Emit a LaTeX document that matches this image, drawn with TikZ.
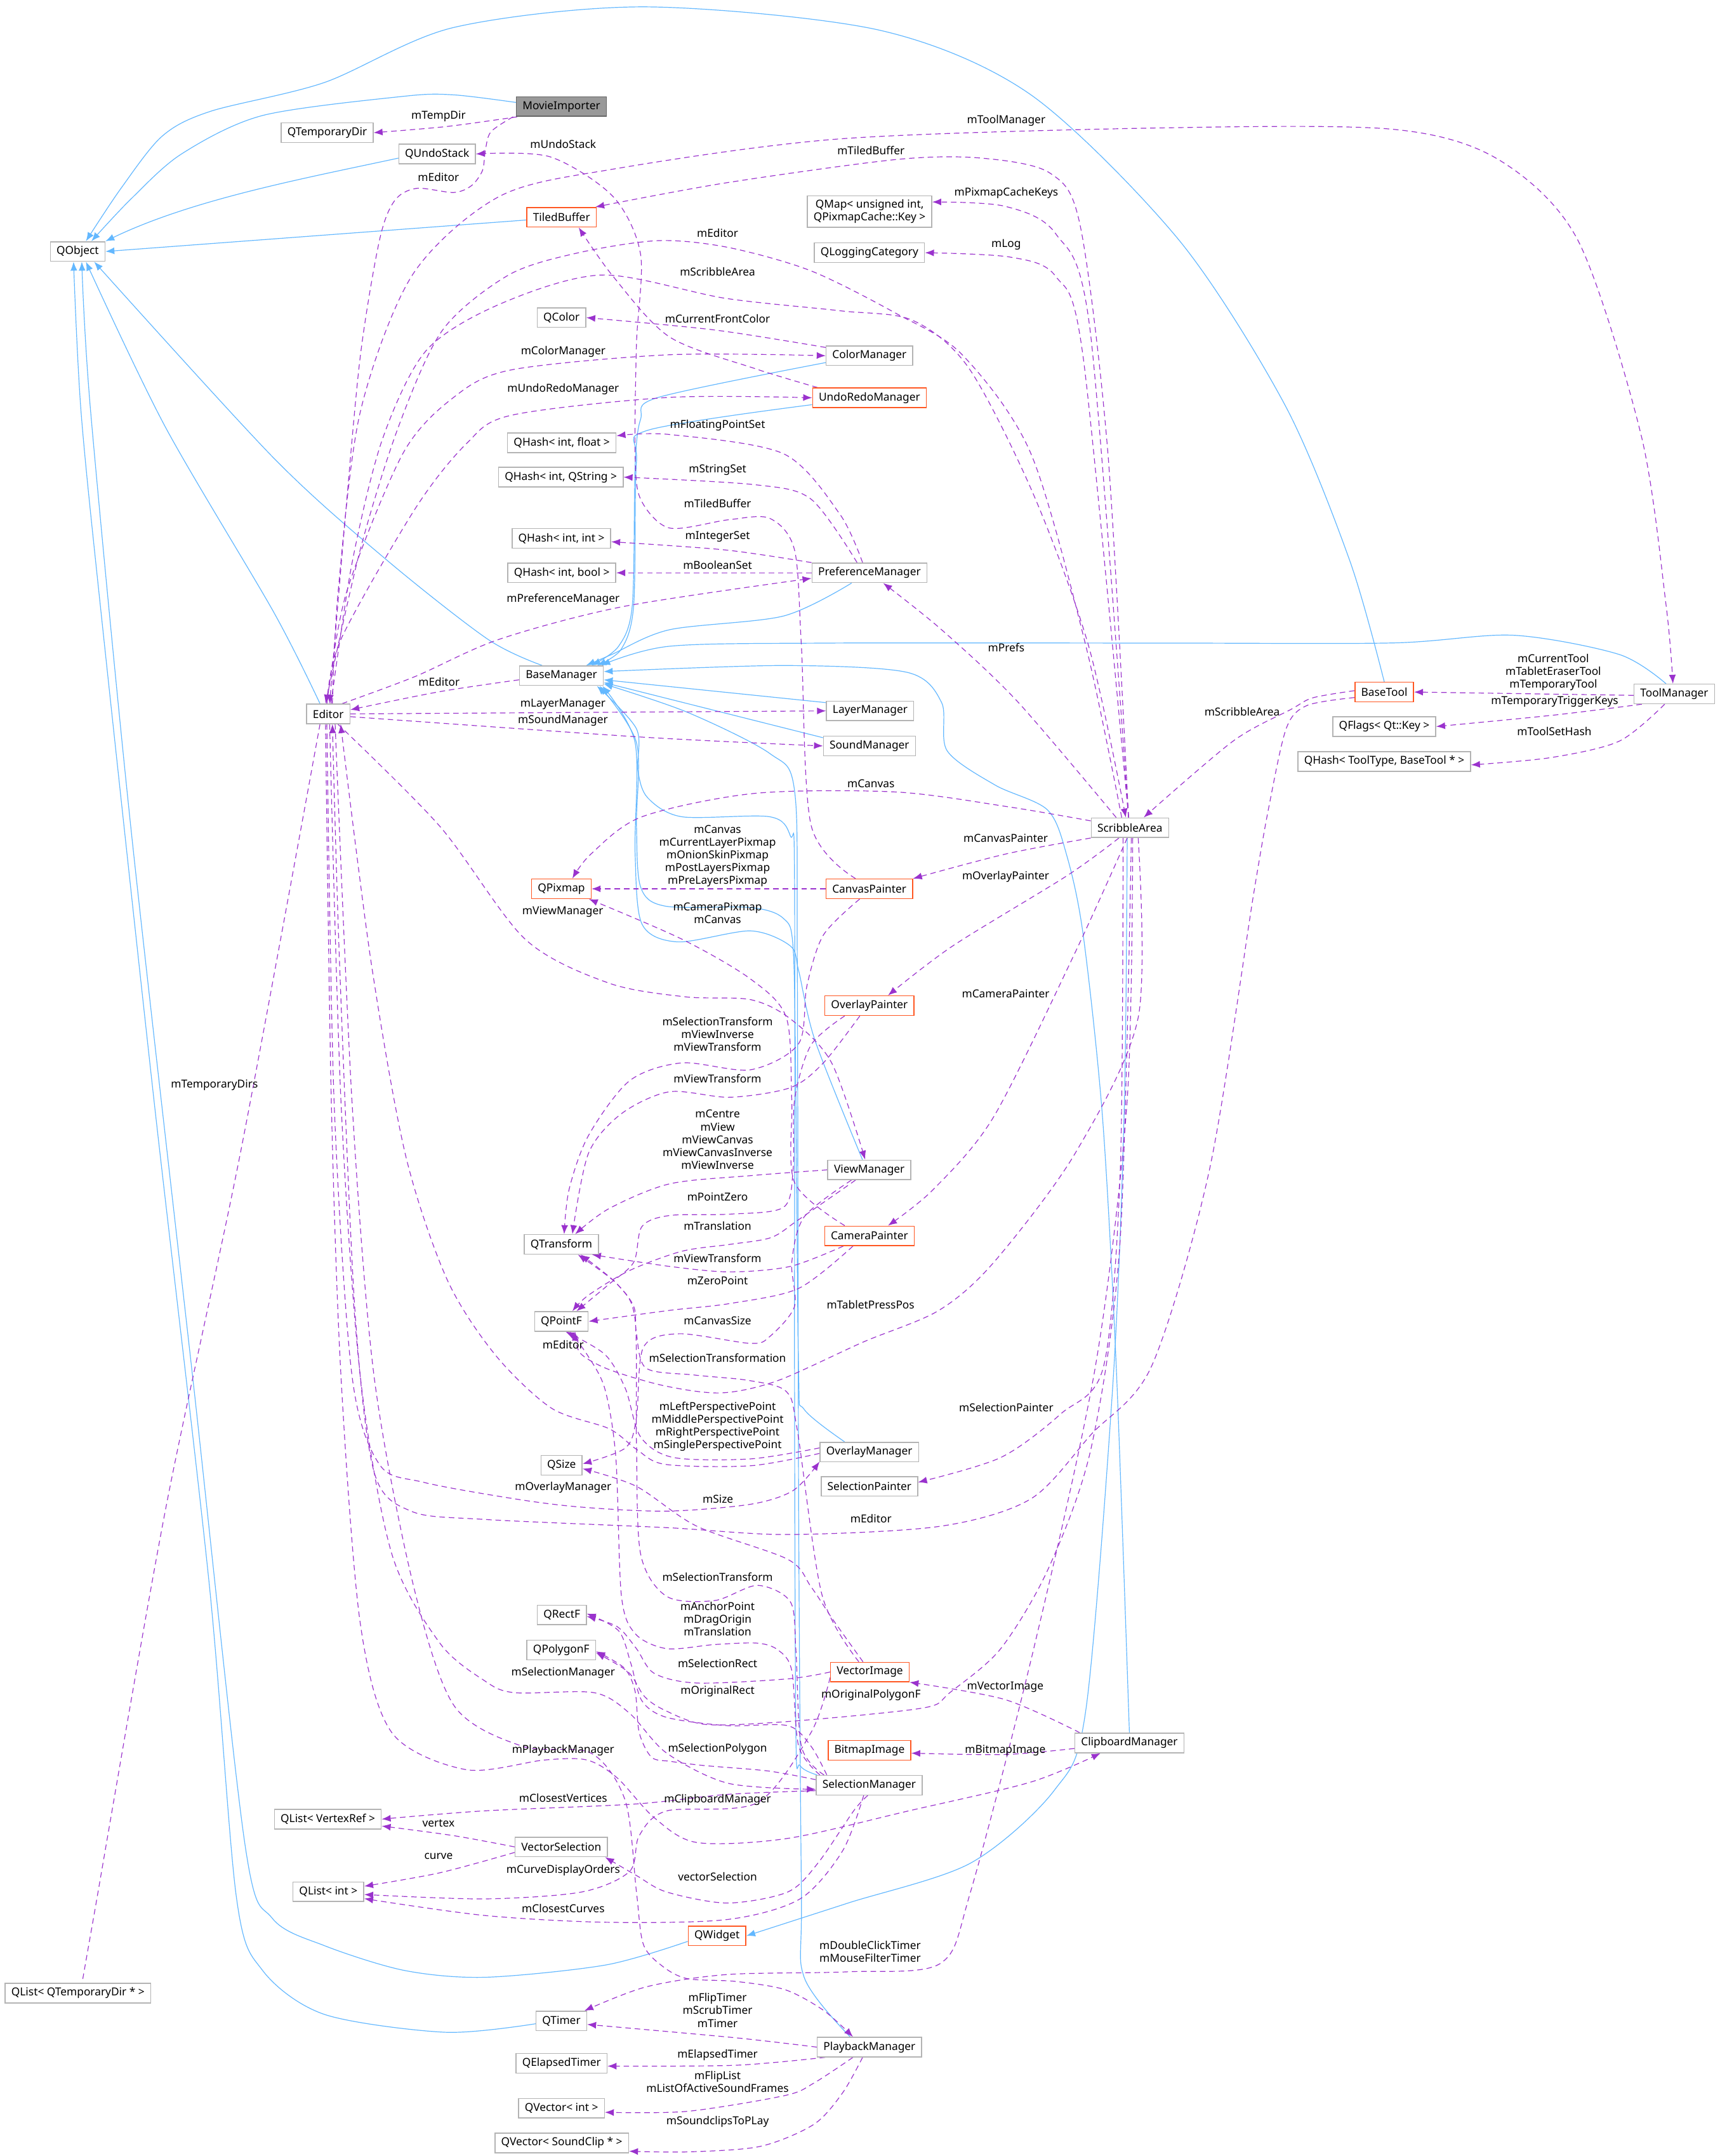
\documentclass[tikz,border=0pt]{standalone}
\usepackage{fontspec}
\setmainfont{Noto Sans}
\usetikzlibrary{arrows.meta}
\definecolor{purp}{HTML}{9A32CD}
\definecolor{blu}{HTML}{63B8FF}
\definecolor{nodegray}{HTML}{B3B3B3}
\definecolor{nodered}{HTML}{FF5722}
\definecolor{mifill}{HTML}{999999}
\definecolor{miborder}{HTML}{666666}
\pgfdeclarelayer{bg}
\pgfsetlayers{bg,main}
\tikzset{
  cls/.style={draw=nodegray, line width=0.7pt, fill=white, inner xsep=4.5pt, inner ysep=0pt,
    minimum height=14.2pt, font=\fontsize{8}{9.3}\selectfont, align=center},
  clsred/.style={cls, draw=nodered},
  clsmain/.style={cls, draw=miborder, fill=mifill},
  lbl/.style={font=\fontsize{8}{9.3}\selectfont, align=center, inner sep=0pt},
  inh/.style={draw=blu, line width=0.55pt, -{Latex[length=6.5pt,width=5pt]}},
  dep/.style={draw=purp, line width=0.55pt, dash pattern=on 4pt off 2.8pt, -{Latex[length=6.5pt,width=5pt]}},
}
\begin{document}
\begin{tikzpicture}[x=1pt,y=-1pt]
\begin{pgfonlayer}{bg}
\fill[white] (0,0) rectangle (1251,1568);
\end{pgfonlayer}
\useasboundingbox (0,0) rectangle (1251,1568);

% ---------------- nodes ----------------
\node[clsmain] (MovieImporter) at (408.4,77.5) {MovieImporter};
\node[cls] (QTemporaryDir) at (238,96.5) {QTemporaryDir};
\node[cls] (QUndoStack) at (318,112) {QUndoStack};
\node[cls] (QObject) at (56.5,182.9) {QObject};
\node[clsred] (TiledBuffer) at (408.5,158) {TiledBuffer};
\node[cls, inner ysep=2pt, minimum height=22.7pt] (QMap) at (632.6,153.9) {QMap< unsigned int,\\QPixmapCache::Key >};
\node[cls] (QLogCat) at (632.5,183.8) {QLoggingCategory};
\node[cls] (QColor) at (408.5,231) {QColor};
\node[cls] (ColorManager) at (632.5,258.7) {ColorManager};
\node[clsred] (UndoRedoManager) at (632.5,289.3) {UndoRedoManager};
\node[cls] (QHf) at (408.7,322) {QHash< int, float >};
\node[cls] (QHs) at (408,347) {QHash< int, QString >};
\node[cls] (QHi) at (408.4,391.5) {QHash< int, int >};
\node[cls] (QHb) at (408.7,416.6) {QHash< int, bool >};
\node[cls] (PreferenceManager) at (632.5,416.6) {PreferenceManager};
\node[cls] (BaseManager) at (408.4,491.4) {BaseManager};
\node[cls] (Editor) at (238.8,519.2) {Editor};
\node[cls] (LayerManager) at (633,517) {LayerManager};
\node[cls] (SoundManager) at (632.5,542.5) {SoundManager};
\node[cls] (ScribbleArea) at (822,602) {ScribbleArea};
\node[clsred] (BaseTool) at (1007,503.3) {BaseTool};
\node[cls] (ToolManager) at (1218,504.7) {ToolManager};
\node[cls] (QFlags) at (1007,528.4) {QFlags< Qt::Key >};
\node[cls] (QHashTT) at (1007,553.8) {QHash< ToolType, BaseTool * >};
\node[clsred] (QPixmap) at (408.4,646.4) {QPixmap};
\node[clsred] (CanvasPainter) at (632.4,646.4) {CanvasPainter};
\node[clsred] (OverlayPainter) at (632.5,731.4) {OverlayPainter};
\node[cls] (ViewManager) at (632.4,850.8) {ViewManager};
\node[cls] (QTransform) at (408.4,905) {QTransform};
\node[clsred] (CameraPainter) at (632.5,898.8) {CameraPainter};
\node[cls] (QPointF) at (408.4,961) {QPointF};
\node[cls] (QSize) at (408.5,1065.6) {QSize};
\node[cls] (OverlayManager) at (632.4,1056) {OverlayManager};
\node[cls] (SelectionPainter) at (632.5,1081) {SelectionPainter};
\node[cls] (QRectF) at (408.7,1174.5) {QRectF};
\node[cls] (QPolygonF) at (408.3,1200) {QPolygonF};
\node[clsred] (VectorImage) at (632.8,1216) {VectorImage};
\node[clsred] (BitmapImage) at (632.5,1273) {BitmapImage};
\node[cls] (ClipboardManager) at (821.6,1267.6) {ClipboardManager};
\node[cls] (SelectionManager) at (632.3,1298.3) {SelectionManager};
\node[cls] (QLVR) at (238.5,1323) {QList< VertexRef >};
\node[cls] (VectorSelection) at (408.3,1343.2) {VectorSelection};
\node[cls] (QLI) at (238.9,1375.8) {QList< int >};
\node[clsred] (QWidget) at (521.6,1407.9) {QWidget};
\node[cls] (QLTD) at (56.7,1449.5) {QList< QTemporaryDir * >};
\node[cls] (QTimer) at (408.4,1469.8) {QTimer};
\node[cls] (PlaybackManager) at (632.5,1488.8) {PlaybackManager};
\node[cls] (QET) at (408.5,1500.6) {QElapsedTimer};
\node[cls] (QVI) at (408.5,1533.2) {QVector< int >};
\node[cls] (QVSC) at (408.7,1558.5) {QVector< SoundClip * >};

% ---------------- edge labels ----------------
\node[lbl] at (319,84.6) {mTempDir};
\node[lbl] at (409.7,105) {mUndoStack};
\node[lbl] at (319,128.6) {mEditor};
\node[lbl] at (732,87.7) {mToolManager};
\node[lbl] at (633.6,109.3) {mTiledBuffer};
\node[lbl] at (732,140.5) {mPixmapCacheKeys};
\node[lbl] at (522,169.6) {mEditor};
\node[lbl] at (732,178) {mLog};
\node[lbl] at (522,197.4) {mScribbleArea};
\node[lbl] at (522,232) {mCurrentFrontColor};
\node[lbl] at (409.7,255.6) {mColorManager};
\node[lbl] at (409.7,283) {mUndoRedoManager};
\node[lbl] at (522,309.5) {mFloatingPointSet};
\node[lbl] at (522,341.7) {mStringSet};
\node[lbl] at (522,366) {mTiledBuffer};
\node[lbl] at (522,390.5) {mIntegerSet};
\node[lbl] at (522,411) {mBooleanSet};
\node[lbl] at (409.7,435.8) {mPreferenceManager};
\node[lbl] at (732,471) {mPrefs};
\node[lbl] at (319.4,495.9) {mEditor};
\node[lbl] at (409.5,512) {mLayerManager};
\node[lbl] at (409.5,524) {mSoundManager};
\node[lbl] at (1130,489) {mCurrentTool\\mTabletEraserTool\\mTemporaryTool};
\node[lbl] at (1131,510.3) {mTemporaryTriggerKeys};
\node[lbl] at (903.6,517.4) {mScribbleArea};
\node[lbl] at (1130.7,532) {mToolSetHash};
\node[lbl] at (633.6,570) {mCanvas};
\node[lbl] at (522,622.5) {mCanvas\\mCurrentLayerPixmap\\mOnionSkinPixmap\\mPostLayersPixmap\\mPreLayersPixmap};
\node[lbl] at (731.6,609.6) {mCanvasPainter};
\node[lbl] at (731.6,637.7) {mOverlayPainter};
\node[lbl] at (409.4,663) {mViewManager};
\node[lbl] at (522,664) {mCameraPixmap\\mCanvas};
\node[lbl] at (731.6,722.8) {mCameraPainter};
\node[lbl] at (522,752.2) {mSelectionTransform\\mViewInverse\\mViewTransform};
\node[lbl] at (522,784.3) {mViewTransform};
\node[lbl] at (522,828.8) {mCentre\\mView\\mViewCanvas\\mViewCanvasInverse\\mViewInverse};
\node[lbl] at (522,870.4) {mPointZero};
\node[lbl] at (522,891.6) {mTranslation};
\node[lbl] at (522,915) {mViewTransform};
\node[lbl] at (522,931.4) {mZeroPoint};
\node[lbl] at (633.3,949) {mTabletPressPos};
\node[lbl] at (522,960.3) {mCanvasSize};
\node[lbl] at (409.7,977.9) {mEditor};
\node[lbl] at (522,987.6) {mSelectionTransformation};
\node[lbl] at (732,1023.7) {mSelectionPainter};
\node[lbl] at (522,1037.5) {mLeftPerspectivePoint\\mMiddlePerspectivePoint\\mRightPerspectivePoint\\mSinglePerspectivePoint};
\node[lbl] at (409.7,1082) {mOverlayManager};
\node[lbl] at (522.3,1090) {mSize};
\node[lbl] at (633.6,1104.4) {mEditor};
\node[lbl] at (522,1146.8) {mSelectionTransform};
\node[lbl] at (522,1177.3) {mAnchorPoint\\mDragOrigin\\mTranslation};
\node[lbl] at (522,1209.8) {mSelectionRect};
\node[lbl] at (409.7,1216.6) {mSelectionManager};
\node[lbl] at (731.3,1227) {mVectorImage};
\node[lbl] at (522,1230.2) {mOriginalRect};
\node[lbl] at (633.6,1232.8) {mOriginalPolygonF};
\node[lbl] at (522,1272) {mSelectionPolygon};
\node[lbl] at (409.7,1273) {mPlaybackManager};
\node[lbl] at (731.3,1273) {mBitmapImage};
\node[lbl] at (409.7,1307.6) {mClosestVertices};
\node[lbl] at (522,1309.1) {mClipboardManager};
\node[lbl] at (319,1326) {vertex};
\node[lbl] at (319,1350) {curve};
\node[lbl] at (409.7,1360) {mCurveDisplayOrders};
\node[lbl] at (522,1365) {vectorSelection};
\node[lbl] at (409.7,1388) {mClosestCurves};
\node[lbl] at (156,789) {mTemporaryDirs};
\node[lbl] at (633,1419.3) {mDoubleClickTimer\\mMouseFilterTimer};
\node[lbl] at (522,1462) {mFlipTimer\\mScrubTimer\\mTimer};
\node[lbl] at (522,1494.7) {mElapsedTimer};
\node[lbl] at (522,1514) {mFlipList\\mListOfActiveSoundFrames};
\node[lbl] at (522,1542.9) {mSoundclipsToPLay};

\begin{pgfonlayer}{bg}
% ---------------- inheritance edges ----------------
\draw[inh] plot[smooth] coordinates {([yshift=3pt]MovieImporter.west) (330,69) (294,70) (191,84) (132,112) (95,145) ([xshift=10pt]QObject.north)};
\draw[inh] ([yshift=-3pt]QUndoStack.west) .. controls (220,130) and (140,145) .. (QObject.north east);
\draw[inh] ([yshift=-2pt]TiledBuffer.west) -- (QObject.east);
\draw[inh] plot[smooth] coordinates {(BaseTool.north) (982,408) (935,295) (858,175) (750,69) (640,22) (470,5) (330,20) (236,60) (153,81) (118,99) (88,137) ([xshift=6pt]QObject.north)};
\draw[inh] plot[smooth] coordinates {([xshift=-14pt]BaseManager.north) (355,465) (281,407) (199,333) ([xshift=12pt]QObject.south)};
\draw[inh] plot[smooth] coordinates {([xshift=-6pt]Editor.north) (199,445) (120,310) ([xshift=6pt]QObject.south)};
\draw[inh] plot[smooth] coordinates {([yshift=-4pt]QWidget.west) (441,1429) (353,1438) (294,1433) (236,1415) (198,1395) (178,1340) (140,1000) (95,600) (66,300) ([xshift=3pt]QObject.south)};
\draw[inh] plot[smooth] coordinates {([yshift=-2pt]QTimer.west) (324,1478) (236,1465) (191,1433) (172,1380) (152,1150) (112,800) (74,450) (59,300) ([xshift=-3pt]QObject.south)};
\draw[inh] plot[smooth] coordinates {([yshift=-5pt]ColorManager.west) (479,289) (466,305) (462,340) (460,440) (450,470) ([xshift=22pt]BaseManager.north)};
\draw[inh] plot[smooth] coordinates {([yshift=-5pt]UndoRedoManager.west) (471,313) (463,336) (461,440) (452,472) ([xshift=26pt]BaseManager.north)};
\draw[inh] plot[smooth] coordinates {([xshift=-13pt]PreferenceManager.south) (570,448) (487,458) (445,476) ([xshift=18pt]BaseManager.north)};
\draw[inh] plot[smooth] coordinates {([xshift=-6pt]ToolManager.north) (1178,476) (1101,462) (1013,467.6) (846,467.7) (603,467.7) (487,470) ([xshift=29pt]BaseManager.north)};
\draw[inh] ([yshift=6pt]LayerManager.west) -- ([yshift=-3pt]BaseManager.east);
\draw[inh] ([yshift=6pt]SoundManager.west) -- ([yshift=-5pt]BaseManager.east);
\draw[inh] plot[smooth] coordinates {(ClipboardManager.north) (812,993) (802,812) (788,680) (776,622) (762,589) (724,571) (689,546) (685,511) (660,489) (570,484) ([yshift=3pt]BaseManager.east)};
\draw[inh] plot[smooth] coordinates {([xshift=-2pt]ScribbleArea.south) (818,800) (810,1000) (790,1243) (767,1302) (706,1355) (617,1384) (QWidget.east)};
\draw[inh] plot[smooth] coordinates {([xshift=-5pt]ViewManager.north) (593,757) (581,706) (575,688) (546,677) (493,685) (467,672) (462,620) (462,540) ([xshift=-1pt]BaseManager.south east)};
\draw[inh] plot[smooth] coordinates {([xshift=-18pt]OverlayManager.north) (585,1025) (581,1000) (579,800) (577,690) (570,668) (546,660) (484,659) (466,645) (463,600) (463,540) ([xshift=-3pt]BaseManager.south east)};
\draw[inh] plot[smooth] coordinates {([xshift=1pt]SelectionManager.north west) (582,1284) (579,1262) (578,1000) (578,640) (575,608) (560,594) (496,594) (471,580) (464,560) (463,530) ([xshift=-5pt]BaseManager.south east)};
\draw[inh] plot[smooth] coordinates {([xshift=-14pt]PlaybackManager.north) (585,1438) (583,1376) (581,1100) (580,700) (578,575) (560,548) (500,518) ([yshift=-6pt]BaseManager.east)};

% ---------------- usage edges ----------------
\draw[dep] plot[smooth] coordinates {([xshift=1pt]MovieImporter.south west) (325,92) (QTemporaryDir.east)};
\draw[dep] plot[smooth] coordinates {([xshift=-2pt]MovieImporter.south west) (357,96) (353,110) (351,124) (343,135) (330,140) (303,137) (287,146) (276,175) (262,260) (250,390) ([xshift=1pt]Editor.north)};
\draw[dep] plot[smooth] coordinates {([xshift=-6pt]ScribbleArea.north) (790,470) (750,330) (700,258) (652,228) (590,197) (530,180) (479,175) (420,184) (370,200) (322,240) (290,310) (262,400) ([xshift=-2pt]Editor.north)};
\draw[dep] plot[smooth] coordinates {([xshift=2pt]Editor.north) (256,410) (278,320) (310,255) (364,221) (438,200) (528,217) (611,226) (664,233) (705,268) (752,360) (792,470) ([xshift=-3pt]ScribbleArea.north)};
\draw[dep] plot[smooth] coordinates {([xshift=3pt]Editor.north) (246,430) (262,300) (300,200) (363,143) (446,123) (611,101) (846,93) (1013,94) (1090,116) (1148,175) (1194,317) (1212,440) ([xshift=-1pt]ToolManager.north)};
\draw[dep] plot[smooth] coordinates {([xshift=-1pt]ScribbleArea.north) (806,330) (786,165) (764,126) (714,115) (652,116) (528,133) ([xshift=-1pt]TiledBuffer.north east)};
\draw[dep] plot[smooth] coordinates {([xshift=-1pt]ScribbleArea.north) (793,240) (768,170) (731,150) ([yshift=7pt]QMap.east)};
\draw[dep] plot[smooth] coordinates {([xshift=-1pt]ScribbleArea.north) (788,260) (768,201) (735,187) (QLogCat.east)};
\draw[dep] plot[smooth] coordinates {([xshift=-10pt]ScribbleArea.north) (740,510) (685,458) ([xshift=10pt]PreferenceManager.south)};
\draw[dep] plot[smooth] coordinates {([xshift=-1pt]Editor.north) (252,431) (293,330) (330,289) (372,269) (487,258) (ColorManager.west)};
\draw[dep] plot[smooth] coordinates {([xshift=-1pt]Editor.north) (248,465) (302,370) (339,323) (372,302) (487,289) (UndoRedoManager.west)};
\draw[dep] plot[smooth] coordinates {([xshift=10pt]Editor.north) (302,492) (363,465) (454,441) ([yshift=-4pt]PreferenceManager.west)};
\draw[dep] plot[smooth] coordinates {([yshift=-3pt]BaseManager.west) (320,503) ([yshift=3pt]Editor.east)};
\draw[dep] (Editor.east) -- (LayerManager.west);
\draw[dep] plot[smooth] coordinates {([yshift=-2pt]Editor.east) (466,536) (SoundManager.west)};
\draw[dep] plot[smooth] coordinates {([yshift=6pt]ColorManager.west) (520,240) (QColor.east)};
\draw[dep] plot[smooth] coordinates {([xshift=4pt]UndoRedoManager.north west) (549,268) (487,245) (446,201) ([xshift=12.5pt]TiledBuffer.south)};
\draw[dep] plot[smooth] coordinates {([xshift=-10pt]CanvasPainter.north) (590,600) (583,470) (578,400) (560,377) (530,378) (487,384) (466,363) (462,330) (463,250) (466,185) (446,143) (400,114) (QUndoStack.east)};
\draw[dep] plot[smooth] coordinates {([xshift=-5pt]PreferenceManager.north) (611,374) (570,330) (487,316) ([yshift=5pt]QHf.east)};
\draw[dep] plot[smooth] coordinates {([xshift=-9pt]PreferenceManager.north) (590,363) (549,352.5) (QHs.east)};
\draw[dep] plot[smooth] coordinates {(PreferenceManager.north west) (528,400) ([yshift=-2.5pt]QHi.east)};
\draw[dep] (PreferenceManager.west) -- (QHb.east);
\draw[dep] ([yshift=-1pt]ToolManager.west) -- (BaseTool.east);
\draw[dep] plot[smooth] coordinates {([xshift=6pt]ToolManager.south west) (1131,520) (QFlags.east)};
\draw[dep] plot[smooth] coordinates {([xshift=-7pt]ToolManager.south) (1178,539) (1128,551) ([yshift=-2.5pt]QHashTT.east)};
\draw[dep] plot[smooth] coordinates {([yshift=1pt]BaseTool.west) (955,507.5) (939,516) (897,539) ([xshift=10pt]ScribbleArea.north)};
\draw[dep] plot[smooth] coordinates {([yshift=-4pt]BaseTool.west) (951,513) (936,529) (924,582) (912,650) (880,850) (838,993) (794,1043) (750,1090) (684,1110) (573,1116) (485,1111) (352,1105) (299,1099) (272,1070) (258,950) (247,700) ([xshift=3pt]Editor.south)};
\draw[dep] plot[smooth] coordinates {([yshift=5pt]ScribbleArea.west) (735,587) (652,576) (549,577) (467,594) (430,621) ([xshift=8pt]QPixmap.north)};
\draw[dep] (CanvasPainter.west) -- (QPixmap.east);
\draw[dep] plot[smooth] coordinates {(ScribbleArea.south west) (732,621) (CanvasPainter.north east)};
\draw[dep] plot[smooth] coordinates {([xshift=-8pt]ScribbleArea.south) (776,637) (693,688) ([xshift=13.5pt]OverlayPainter.north)};
\draw[dep] plot[smooth] coordinates {([xshift=-2pt]ScribbleArea.south) (782,693) (723,812) (679,865) ([xshift=13.5pt]CameraPainter.north)};
\draw[dep] plot[smooth] coordinates {([xshift=-5pt]ScribbleArea.south) (815,850) (803,993) (772,1028) (728,1060) ([yshift=3pt]SelectionPainter.east)};
\draw[dep] plot[smooth] coordinates {([xshift=6pt]ScribbleArea.south) (828,740) (782,839) (723,918) (683,953) (628,976) (566,1004) (525,1013) (484,1008) (443,996) (422,984) ([xshift=10pt]QPointF.south)};
\draw[dep] plot[smooth] coordinates {([xshift=2pt]ScribbleArea.south) (820,800) (797,993) (752,1199) (706,1376) (684,1428) (617,1434) (529,1436) (470,1445) ([xshift=-2pt]QTimer.north east)};
\draw[dep] plot[smooth] coordinates {([xshift=1pt]ScribbleArea.south) (815,900) (794,1052) (763,1140) (728,1199) (691,1231) (677,1241) (630,1247) (559,1253) (512,1254) (484,1244) (469,1234) (457,1216) ([yshift=-2pt]QPolygonF.east)};
\draw[dep] plot[smooth] coordinates {([xshift=-18pt]CameraPainter.north) (578,860) (576,800) (572,740) (546,712) (496,683) ([xshift=-2pt]QPixmap.south east)};
\draw[dep] plot[smooth] coordinates {([xshift=7pt]Editor.south) (320,601) (382,683) (443,715) (499,725) (546,727) (575,741) (605,773) ([xshift=-3pt]ViewManager.north)};
\draw[dep] plot[smooth] coordinates {([xshift=-7pt]CanvasPainter.south) (599,680) (587,717) (581,759) (546,778) (496,773) (458,786) (428,826) (414,865) ([xshift=2pt]QTransform.north)};
\draw[dep] plot[smooth] coordinates {([xshift=-7pt]OverlayPainter.south) (599,773) (575,791) (531,798) (487,794) (452,810) (428,839) ([xshift=8pt]QTransform.north)};
\draw[dep] plot[smooth] coordinates {(ViewManager.west) (546,855) (487,861) (443,879) ([xshift=10pt]QTransform.north)};
\draw[dep] plot[smooth] coordinates {([xshift=-18pt]OverlayPainter.south) (590,760) (578,800) (577,850) (570,878) (531,883) (487,884) (467,892) (461,918) (443,934) ([xshift=11pt]QPointF.north)};
\draw[dep] plot[smooth] coordinates {([xshift=-10pt]ViewManager.south) (581,887) (561,900) (531,905) (496,910) (458,924) (428,942) ([xshift=8pt]QPointF.north)};
\draw[dep] plot[smooth] coordinates {([xshift=-19pt]CameraPainter.south) (575,921) (531,925) (487,921) ([xshift=-5pt]QTransform.south east)};
\draw[dep] plot[smooth] coordinates {([xshift=-12pt]CameraPainter.south) (581,937) (531,948) (487,953) (QPointF.east)};
\draw[dep] plot[smooth] coordinates {([xshift=-13pt]ViewManager.south) (585,885) (576,918) (578,950) (560,972) (546,977) (494,970) (468,980) (463,1031) (455,1053) ([yshift=1pt]QSize.east)};
\draw[dep] plot[smooth] coordinates {([xshift=-8pt]VectorImage.north) (598,1160) (580,1040) (572,1012) (545,1004) (505,1000) (470,995) (463,970) (461,950) (447,932) ([xshift=12pt]QTransform.south)};
\draw[dep] plot[smooth] coordinates {([xshift=6pt]SelectionManager.north west) (583,1270) (579,1200) (575,1165) (551,1153) (520,1164) (485,1161) (466,1130) (463,1050) (462,960) (450,935) ([xshift=14pt]QTransform.south)};
\draw[dep] plot[smooth] coordinates {([xshift=3pt]SelectionManager.north west) (581,1270) (576,1215) (566,1200) (551,1195) (520,1196) (485,1199) (462,1188) (452,1160) (448,1060) (440,1010) (427,985) ([xshift=6pt]QPointF.south)};
\draw[dep] plot[smooth] coordinates {([yshift=3pt]OverlayManager.west) (546,1061) (490,1060) (466,1045) (455,1010) (440,985) ([xshift=3pt]QPointF.south)};
\draw[dep] plot[smooth] coordinates {([yshift=-1pt]OverlayManager.west) (546,1066) (484,1065) (463,1054) (443,1039) (401,1024) (360,985) (325,930) (295,840) (270,700) ([xshift=9pt]Editor.south)};
\draw[dep] plot[smooth] coordinates {([xshift=-1pt]Editor.south) (243,800) (256,1000) (276,1065) (308,1078) (374,1090) (422,1096) (485,1099) (546,1094) (577,1084) ([yshift=-7pt]OverlayManager.west)};
\draw[dep] plot[smooth] coordinates {([xshift=-5pt]VectorImage.north) (606,1178) (590,1154) (573,1134) (507,1110) (463,1081) ([yshift=-2.5pt]QSize.east)};
\draw[dep] plot[smooth] coordinates {([xshift=1pt]Editor.south) (248,800) (262,1000) (285,1130) (320,1195) (352,1222) (374,1231) (432,1231) (458,1246) (485,1275) (530,1297) ([yshift=-3pt]SelectionManager.west)};
\draw[dep] plot[smooth] coordinates {([xshift=-2pt]Editor.south) (241,800) (248,1000) (262,1180) (285,1260) (339,1287) (396,1280) (427,1280) (449,1293) (476,1322) (507,1340) (573,1337) (661,1317) (750,1296) ([xshift=-21pt]ClipboardManager.south)};
\draw[dep] plot[smooth] coordinates {([xshift=5pt]Editor.south) (256,800) (272,1000) (300,1150) (330,1240) (380,1270) (430,1275) (455,1310) (463,1376) (468,1414) (482,1430) (500,1439) (535,1441) (571,1447) (599,1462) ([xshift=-12pt]PlaybackManager.north)};
\draw[dep] plot[smooth] coordinates {([xshift=-6pt]Editor.south) (175,838) (120,1100) (68,1395) ([xshift=3pt]QLTD.north)};
\draw[dep] plot[smooth] coordinates {([yshift=-4pt]SelectionManager.west) (529,1305) (462,1312) (352,1317) (QLVR.east)};
\draw[dep] plot[smooth] coordinates {(VectorSelection.west) (330,1335) ([yshift=-5pt]QLVR.east)};
\draw[dep] plot[smooth] coordinates {([yshift=-4pt]VectorSelection.west) (320,1362) ([yshift=4pt]QLI.east)};
\draw[dep] plot[smooth] coordinates {([yshift=-4pt]VectorImage.west) (590,1260) (551,1311) (485,1317) (465,1335) (458,1361) (423,1376) (352,1381) ([yshift=-2pt]QLI.east)};
\draw[dep] plot[smooth] coordinates {([xshift=-4pt]SelectionManager.south) (613,1346) (582,1381) (529,1396) (441,1398) (352,1393) ([yshift=-5pt]QLI.east)};
\draw[dep] plot[smooth] coordinates {([xshift=-1pt]SelectionManager.south) (621,1317) (595,1355) (573,1376) (529,1384) (485,1376) (463,1364) ([xshift=-2pt]VectorSelection.south east)};
\draw[dep] plot[smooth] coordinates {([yshift=4pt]SelectionManager.west) (559,1288) (512,1284) (488,1281) (474,1278) (465,1260) (462,1230) (454,1213) ([yshift=-1pt]QPolygonF.east)};
\draw[dep] plot[smooth] coordinates {(VectorImage.west) (573,1221) (507,1224) (476,1217) (463,1199) (449,1183) ([yshift=-1pt]QRectF.east)};
\draw[dep] plot[smooth] coordinates {([xshift=8pt]SelectionManager.north west) (590,1270) (573,1255) (529,1255) (485,1249) (467,1237) (459,1210) (450,1186) ([yshift=1pt]QRectF.east)};
\draw[dep] plot[smooth] coordinates {([xshift=4pt]ClipboardManager.north west) (731,1236) (VectorImage.south east)};
\draw[dep] plot[smooth] coordinates {([yshift=-4pt]ClipboardManager.west) (731,1276) ([yshift=-2pt]BitmapImage.east)};
\draw[dep] plot[smooth] coordinates {(PlaybackManager.west) (535,1482) ([yshift=-2.5pt]QTimer.east)};
\draw[dep] plot[smooth] coordinates {([xshift=6pt]PlaybackManager.south west) (535,1502) ([yshift=-2pt]QET.east)};
\draw[dep] plot[smooth] coordinates {([xshift=-12pt]PlaybackManager.south) (592,1515) (571,1524) (500,1535.5) ([yshift=-3pt]QVI.east)};
\draw[dep] plot[smooth] coordinates {([xshift=-5pt]PlaybackManager.south) (613,1522) (592,1545) (553,1561) (500,1565) ([yshift=-6pt]QVSC.east)};
\end{pgfonlayer}
\end{tikzpicture}
\end{document}
